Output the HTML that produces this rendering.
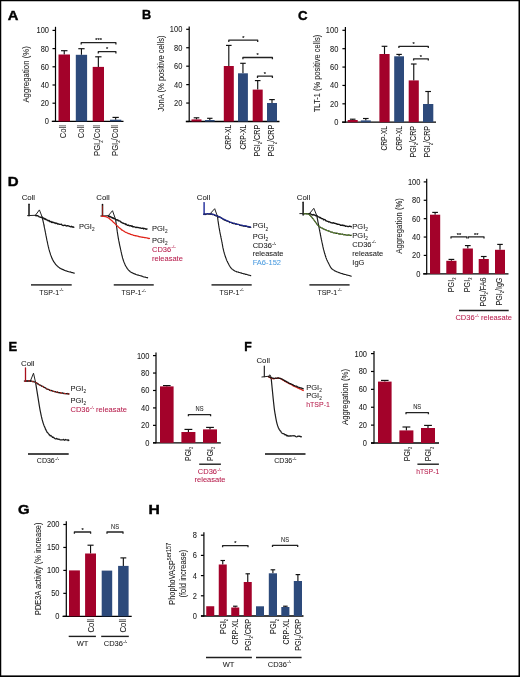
<!DOCTYPE html>
<html><head><meta charset="utf-8"><style>
html,body{margin:0;padding:0;background:#fff;}
body{width:520px;height:677px;overflow:hidden;}
svg{display:block;will-change:transform;font-family:"Liberation Sans",sans-serif;}
</style></head><body>
<svg width="520" height="677" viewBox="0 0 520 677">
<rect x="0" y="0" width="520" height="677" fill="#fff"/>
<text x="7.7" y="19.5" font-size="13.4" text-anchor="start" fill="#000" stroke="#000" stroke-width="0.4" font-weight="bold" textLength="10.65" lengthAdjust="spacingAndGlyphs">A</text>
<line x1="55.5" y1="26.8" x2="55.5" y2="121.9" stroke="#000" stroke-width="1.2"/>
<line x1="52.5" y1="121.4" x2="55.5" y2="121.4" stroke="#000" stroke-width="1.2"/>
<text x="49" y="124.3" font-size="8.6" text-anchor="end" fill="#1a1a1a" stroke="#1a1a1a" stroke-width="0.06" textLength="4.15" lengthAdjust="spacingAndGlyphs">0</text>
<line x1="52.5" y1="103.2" x2="55.5" y2="103.2" stroke="#000" stroke-width="1.2"/>
<text x="49" y="106.1" font-size="8.6" text-anchor="end" fill="#1a1a1a" stroke="#1a1a1a" stroke-width="0.06" textLength="8.3" lengthAdjust="spacingAndGlyphs">20</text>
<line x1="52.5" y1="85" x2="55.5" y2="85" stroke="#000" stroke-width="1.2"/>
<text x="49" y="87.9" font-size="8.6" text-anchor="end" fill="#1a1a1a" stroke="#1a1a1a" stroke-width="0.06" textLength="8.3" lengthAdjust="spacingAndGlyphs">40</text>
<line x1="52.5" y1="66.8" x2="55.5" y2="66.8" stroke="#000" stroke-width="1.2"/>
<text x="49" y="69.7" font-size="8.6" text-anchor="end" fill="#1a1a1a" stroke="#1a1a1a" stroke-width="0.06" textLength="8.3" lengthAdjust="spacingAndGlyphs">60</text>
<line x1="52.5" y1="48.6" x2="55.5" y2="48.6" stroke="#000" stroke-width="1.2"/>
<text x="49" y="51.5" font-size="8.6" text-anchor="end" fill="#1a1a1a" stroke="#1a1a1a" stroke-width="0.06" textLength="8.3" lengthAdjust="spacingAndGlyphs">80</text>
<line x1="52.5" y1="30.4" x2="55.5" y2="30.4" stroke="#000" stroke-width="1.2"/>
<text x="49" y="33.3" font-size="8.6" text-anchor="end" fill="#1a1a1a" stroke="#1a1a1a" stroke-width="0.06" textLength="12.45" lengthAdjust="spacingAndGlyphs">100</text>
<line x1="51.8" y1="121.4" x2="123.5" y2="121.4" stroke="#000" stroke-width="1.3"/>
<line x1="64.25" y1="54.5" x2="64.25" y2="50.7" stroke="#111" stroke-width="1.15"/>
<line x1="61.03" y1="50.7" x2="67.47" y2="50.7" stroke="#111" stroke-width="1.15"/>
<rect x="58.5" y="54.5" width="11.5" height="66.9" fill="#A3022A"/>
<line x1="81.45" y1="54.8" x2="81.45" y2="48.7" stroke="#111" stroke-width="1.15"/>
<line x1="78.29" y1="48.7" x2="84.61" y2="48.7" stroke="#111" stroke-width="1.15"/>
<rect x="75.8" y="54.8" width="11.3" height="66.6" fill="#2D4A7B"/>
<line x1="98.35" y1="66.9" x2="98.35" y2="56.8" stroke="#111" stroke-width="1.15"/>
<line x1="95.19" y1="56.8" x2="101.51" y2="56.8" stroke="#111" stroke-width="1.15"/>
<rect x="92.7" y="66.9" width="11.3" height="54.5" fill="#A3022A"/>
<line x1="115.65" y1="119.7" x2="115.65" y2="117.4" stroke="#111" stroke-width="1.15"/>
<line x1="112.49" y1="117.4" x2="118.81" y2="117.4" stroke="#111" stroke-width="1.15"/>
<rect x="110" y="119.7" width="11.3" height="1.7" fill="#2D4A7B"/>
<path d="M81.2 44.4 L81.2 42.7 L115.9 42.7 L115.9 44.4" fill="none" stroke="#222" stroke-width="1.3" stroke-linejoin="round"/>
<text x="98.55" y="42.4" font-size="5.6" text-anchor="middle" fill="#222" stroke="#222" stroke-width="0.2">***</text>
<path d="M98.3 53.4 L98.3 51.7 L115.9 51.7 L115.9 53.4" fill="none" stroke="#222" stroke-width="1.3" stroke-linejoin="round"/>
<text x="107.1" y="51.4" font-size="5.6" text-anchor="middle" fill="#222" stroke="#222" stroke-width="0.2">*</text>
<text x="66.45" y="125.1" font-size="8.4" text-anchor="end" fill="#1a1a1a" stroke="#1a1a1a" stroke-width="0.06" transform="rotate(-90 66.45 125.1)" textLength="13.2" lengthAdjust="spacingAndGlyphs">Coll</text>
<text x="83.75" y="125.1" font-size="8.4" text-anchor="end" fill="#1a1a1a" stroke="#1a1a1a" stroke-width="0.06" transform="rotate(-90 83.75 125.1)" textLength="13.2" lengthAdjust="spacingAndGlyphs">Coll</text>
<text x="100.45" y="125.1" font-size="8.4" text-anchor="end" fill="#1a1a1a" stroke="#1a1a1a" stroke-width="0.06" transform="rotate(-90 100.45 125.1)" textLength="30.8" lengthAdjust="spacingAndGlyphs">PGI<tspan dy="2.1" font-size="4.7">2</tspan><tspan dy="-2.1">/Coll</tspan></text>
<text x="118.25" y="125.1" font-size="8.4" text-anchor="end" fill="#1a1a1a" stroke="#1a1a1a" stroke-width="0.06" transform="rotate(-90 118.25 125.1)" textLength="30.8" lengthAdjust="spacingAndGlyphs">PGI<tspan dy="2.1" font-size="4.7">2</tspan><tspan dy="-2.1">/Coll</tspan></text>
<text x="29.4" y="74.4" font-size="8.8" text-anchor="middle" fill="#1a1a1a" stroke="#1a1a1a" stroke-width="0.06" transform="rotate(-90 29.4 74.4)" textLength="56.4" lengthAdjust="spacingAndGlyphs">Aggregation (%)</text>
<text x="142.1" y="19.4" font-size="13.4" text-anchor="start" fill="#000" stroke="#000" stroke-width="0.4" font-weight="bold" textLength="9.2" lengthAdjust="spacingAndGlyphs">B</text>
<line x1="189.2" y1="26.5" x2="189.2" y2="122" stroke="#000" stroke-width="1.2"/>
<line x1="186.2" y1="121.5" x2="189.2" y2="121.5" stroke="#000" stroke-width="1.2"/>
<line x1="186.2" y1="103.06" x2="189.2" y2="103.06" stroke="#000" stroke-width="1.2"/>
<text x="182.3" y="105.96" font-size="8.6" text-anchor="end" fill="#1a1a1a" stroke="#1a1a1a" stroke-width="0.06" textLength="8.3" lengthAdjust="spacingAndGlyphs">20</text>
<line x1="186.2" y1="84.62" x2="189.2" y2="84.62" stroke="#000" stroke-width="1.2"/>
<text x="182.3" y="87.52" font-size="8.6" text-anchor="end" fill="#1a1a1a" stroke="#1a1a1a" stroke-width="0.06" textLength="8.3" lengthAdjust="spacingAndGlyphs">40</text>
<line x1="186.2" y1="66.18" x2="189.2" y2="66.18" stroke="#000" stroke-width="1.2"/>
<text x="182.3" y="69.08" font-size="8.6" text-anchor="end" fill="#1a1a1a" stroke="#1a1a1a" stroke-width="0.06" textLength="8.3" lengthAdjust="spacingAndGlyphs">60</text>
<line x1="186.2" y1="47.74" x2="189.2" y2="47.74" stroke="#000" stroke-width="1.2"/>
<text x="182.3" y="50.64" font-size="8.6" text-anchor="end" fill="#1a1a1a" stroke="#1a1a1a" stroke-width="0.06" textLength="8.3" lengthAdjust="spacingAndGlyphs">80</text>
<line x1="186.2" y1="29.3" x2="189.2" y2="29.3" stroke="#000" stroke-width="1.2"/>
<text x="182.3" y="32.2" font-size="8.6" text-anchor="end" fill="#1a1a1a" stroke="#1a1a1a" stroke-width="0.06" textLength="12.45" lengthAdjust="spacingAndGlyphs">100</text>
<line x1="185.8" y1="121.5" x2="279.5" y2="121.5" stroke="#000" stroke-width="1.3"/>
<line x1="196.5" y1="119.4" x2="196.5" y2="117.8" stroke="#111" stroke-width="1.15"/>
<line x1="193.7" y1="117.8" x2="199.3" y2="117.8" stroke="#111" stroke-width="1.15"/>
<rect x="191.5" y="119.4" width="10" height="2.1" fill="#A3022A"/>
<line x1="209.8" y1="120" x2="209.8" y2="118.3" stroke="#111" stroke-width="1.15"/>
<line x1="207.11" y1="118.3" x2="212.49" y2="118.3" stroke="#111" stroke-width="1.15"/>
<rect x="205" y="120" width="9.6" height="1.5" fill="#2D4A7B"/>
<line x1="228.8" y1="66" x2="228.8" y2="45.4" stroke="#111" stroke-width="1.15"/>
<line x1="226" y1="45.4" x2="231.6" y2="45.4" stroke="#111" stroke-width="1.15"/>
<rect x="223.8" y="66" width="10" height="55.5" fill="#A3022A"/>
<line x1="242.95" y1="73.3" x2="242.95" y2="63.3" stroke="#111" stroke-width="1.15"/>
<line x1="240.18" y1="63.3" x2="245.72" y2="63.3" stroke="#111" stroke-width="1.15"/>
<rect x="238" y="73.3" width="9.9" height="48.2" fill="#2D4A7B"/>
<line x1="257.7" y1="89.6" x2="257.7" y2="80.6" stroke="#111" stroke-width="1.15"/>
<line x1="254.9" y1="80.6" x2="260.5" y2="80.6" stroke="#111" stroke-width="1.15"/>
<rect x="252.7" y="89.6" width="10" height="31.9" fill="#A3022A"/>
<line x1="272" y1="103" x2="272" y2="99.6" stroke="#111" stroke-width="1.15"/>
<line x1="269.2" y1="99.6" x2="274.8" y2="99.6" stroke="#111" stroke-width="1.15"/>
<rect x="267" y="103" width="10" height="18.5" fill="#2D4A7B"/>
<path d="M228.8 41.9 L228.8 40.2 L257.7 40.2 L257.7 41.9" fill="none" stroke="#222" stroke-width="1.3" stroke-linejoin="round"/>
<text x="243.25" y="39.9" font-size="5.6" text-anchor="middle" fill="#222" stroke="#222" stroke-width="0.2">*</text>
<path d="M242.9 59.2 L242.9 57.5 L272.4 57.5 L272.4 59.2" fill="none" stroke="#222" stroke-width="1.3" stroke-linejoin="round"/>
<text x="257.65" y="57.2" font-size="5.6" text-anchor="middle" fill="#222" stroke="#222" stroke-width="0.2">*</text>
<path d="M257.5 77.9 L257.5 76.2 L272.4 76.2 L272.4 77.9" fill="none" stroke="#222" stroke-width="1.3" stroke-linejoin="round"/>
<text x="264.95" y="75.9" font-size="5.6" text-anchor="middle" fill="#222" stroke="#222" stroke-width="0.2">*</text>
<text x="231.15" y="124.8" font-size="8.4" text-anchor="end" fill="#1a1a1a" stroke="#1a1a1a" stroke-width="0.06" transform="rotate(-90 231.15 124.8)" textLength="24.8" lengthAdjust="spacingAndGlyphs">CRP-XL</text>
<text x="245.75" y="124.8" font-size="8.4" text-anchor="end" fill="#1a1a1a" stroke="#1a1a1a" stroke-width="0.06" transform="rotate(-90 245.75 124.8)" textLength="24.8" lengthAdjust="spacingAndGlyphs">CRP-XL</text>
<text x="259.85" y="124.8" font-size="8.4" text-anchor="end" fill="#1a1a1a" stroke="#1a1a1a" stroke-width="0.06" transform="rotate(-90 259.85 124.8)" textLength="31.8" lengthAdjust="spacingAndGlyphs">PGI<tspan dy="2.1" font-size="4.7">2</tspan><tspan dy="-2.1">/CRP</tspan></text>
<text x="274.45" y="124.8" font-size="8.4" text-anchor="end" fill="#1a1a1a" stroke="#1a1a1a" stroke-width="0.06" transform="rotate(-90 274.45 124.8)" textLength="31.8" lengthAdjust="spacingAndGlyphs">PGI<tspan dy="2.1" font-size="4.7">2</tspan><tspan dy="-2.1">/CRP</tspan></text>
<text x="163.6" y="73.5" font-size="8.8" text-anchor="middle" fill="#1a1a1a" stroke="#1a1a1a" stroke-width="0.06" transform="rotate(-90 163.6 73.5)" textLength="76" lengthAdjust="spacingAndGlyphs">JonA (% positive cells)</text>
<text x="298.1" y="19.5" font-size="13.4" text-anchor="start" fill="#000" stroke="#000" stroke-width="0.4" font-weight="bold" textLength="9.57" lengthAdjust="spacingAndGlyphs">C</text>
<line x1="345.4" y1="27.1" x2="345.4" y2="122.7" stroke="#000" stroke-width="1.2"/>
<line x1="342.4" y1="122.2" x2="345.4" y2="122.2" stroke="#000" stroke-width="1.2"/>
<text x="338.3" y="125.1" font-size="8.6" text-anchor="end" fill="#1a1a1a" stroke="#1a1a1a" stroke-width="0.06" textLength="4.15" lengthAdjust="spacingAndGlyphs">0</text>
<line x1="342.4" y1="103.82" x2="345.4" y2="103.82" stroke="#000" stroke-width="1.2"/>
<text x="338.3" y="106.72" font-size="8.6" text-anchor="end" fill="#1a1a1a" stroke="#1a1a1a" stroke-width="0.06" textLength="8.3" lengthAdjust="spacingAndGlyphs">20</text>
<line x1="342.4" y1="85.44" x2="345.4" y2="85.44" stroke="#000" stroke-width="1.2"/>
<text x="338.3" y="88.34" font-size="8.6" text-anchor="end" fill="#1a1a1a" stroke="#1a1a1a" stroke-width="0.06" textLength="8.3" lengthAdjust="spacingAndGlyphs">40</text>
<line x1="342.4" y1="67.06" x2="345.4" y2="67.06" stroke="#000" stroke-width="1.2"/>
<text x="338.3" y="69.96" font-size="8.6" text-anchor="end" fill="#1a1a1a" stroke="#1a1a1a" stroke-width="0.06" textLength="8.3" lengthAdjust="spacingAndGlyphs">60</text>
<line x1="342.4" y1="48.68" x2="345.4" y2="48.68" stroke="#000" stroke-width="1.2"/>
<text x="338.3" y="51.58" font-size="8.6" text-anchor="end" fill="#1a1a1a" stroke="#1a1a1a" stroke-width="0.06" textLength="8.3" lengthAdjust="spacingAndGlyphs">80</text>
<line x1="342.4" y1="30.3" x2="345.4" y2="30.3" stroke="#000" stroke-width="1.2"/>
<text x="338.3" y="33.2" font-size="8.6" text-anchor="end" fill="#1a1a1a" stroke="#1a1a1a" stroke-width="0.06" textLength="12.45" lengthAdjust="spacingAndGlyphs">100</text>
<line x1="342" y1="122.2" x2="436" y2="122.2" stroke="#000" stroke-width="1.3"/>
<line x1="352.7" y1="120" x2="352.7" y2="119.2" stroke="#111" stroke-width="1.15"/>
<line x1="349.9" y1="119.2" x2="355.5" y2="119.2" stroke="#111" stroke-width="1.15"/>
<rect x="347.7" y="120" width="10" height="2.2" fill="#A3022A"/>
<line x1="365.8" y1="120.4" x2="365.8" y2="118.5" stroke="#111" stroke-width="1.15"/>
<line x1="363" y1="118.5" x2="368.6" y2="118.5" stroke="#111" stroke-width="1.15"/>
<rect x="360.8" y="120.4" width="10" height="1.8" fill="#2D4A7B"/>
<line x1="384.5" y1="54" x2="384.5" y2="46.3" stroke="#111" stroke-width="1.15"/>
<line x1="381.64" y1="46.3" x2="387.36" y2="46.3" stroke="#111" stroke-width="1.15"/>
<rect x="379.4" y="54" width="10.2" height="68.2" fill="#A3022A"/>
<line x1="399.1" y1="56.3" x2="399.1" y2="54.4" stroke="#111" stroke-width="1.15"/>
<line x1="396.36" y1="54.4" x2="401.84" y2="54.4" stroke="#111" stroke-width="1.15"/>
<rect x="394.2" y="56.3" width="9.8" height="65.9" fill="#2D4A7B"/>
<line x1="413.75" y1="80.4" x2="413.75" y2="64" stroke="#111" stroke-width="1.15"/>
<line x1="410.92" y1="64" x2="416.58" y2="64" stroke="#111" stroke-width="1.15"/>
<rect x="408.7" y="80.4" width="10.1" height="41.8" fill="#A3022A"/>
<line x1="428.15" y1="104" x2="428.15" y2="91.5" stroke="#111" stroke-width="1.15"/>
<line x1="425.27" y1="91.5" x2="431.03" y2="91.5" stroke="#111" stroke-width="1.15"/>
<rect x="423" y="104" width="10.3" height="18.2" fill="#2D4A7B"/>
<path d="M398.9 48 L398.9 46.3 L428.3 46.3 L428.3 48" fill="none" stroke="#222" stroke-width="1.3" stroke-linejoin="round"/>
<text x="413.6" y="46" font-size="5.6" text-anchor="middle" fill="#222" stroke="#222" stroke-width="0.2">*</text>
<path d="M413.6 60.5 L413.6 58.8 L428.3 58.8 L428.3 60.5" fill="none" stroke="#222" stroke-width="1.3" stroke-linejoin="round"/>
<text x="420.95" y="58.5" font-size="5.6" text-anchor="middle" fill="#222" stroke="#222" stroke-width="0.2">*</text>
<text x="387.15" y="126" font-size="8.4" text-anchor="end" fill="#1a1a1a" stroke="#1a1a1a" stroke-width="0.06" transform="rotate(-90 387.15 126)" textLength="24.6" lengthAdjust="spacingAndGlyphs">CRP-XL</text>
<text x="401.85" y="126" font-size="8.4" text-anchor="end" fill="#1a1a1a" stroke="#1a1a1a" stroke-width="0.06" transform="rotate(-90 401.85 126)" textLength="24.6" lengthAdjust="spacingAndGlyphs">CRP-XL</text>
<text x="415.75" y="126" font-size="8.4" text-anchor="end" fill="#1a1a1a" stroke="#1a1a1a" stroke-width="0.06" transform="rotate(-90 415.75 126)" textLength="31.4" lengthAdjust="spacingAndGlyphs">PGI<tspan dy="2.1" font-size="4.7">2</tspan><tspan dy="-2.1">/CRP</tspan></text>
<text x="430.45" y="126" font-size="8.4" text-anchor="end" fill="#1a1a1a" stroke="#1a1a1a" stroke-width="0.06" transform="rotate(-90 430.45 126)" textLength="31.4" lengthAdjust="spacingAndGlyphs">PGI<tspan dy="2.1" font-size="4.7">2</tspan><tspan dy="-2.1">/CRP</tspan></text>
<text x="319.6" y="73.5" font-size="8.8" text-anchor="middle" fill="#1a1a1a" stroke="#1a1a1a" stroke-width="0.06" transform="rotate(-90 319.6 73.5)" textLength="77.5" lengthAdjust="spacingAndGlyphs">TLT-1 (% positive cells)</text>
<text x="7.8" y="186.4" font-size="13.4" text-anchor="start" fill="#000" stroke="#000" stroke-width="0.4" font-weight="bold" textLength="10.86" lengthAdjust="spacingAndGlyphs">D</text>
<text x="28.4" y="200" font-size="7.8" text-anchor="middle" fill="#1a1a1a" stroke="#1a1a1a" stroke-width="0.06">Coll</text>
<path d="M29 204.3 L29 215.8" fill="none" stroke="#111" stroke-width="1.5" stroke-linejoin="round" stroke-linecap="round"/>
<path d="M27.60 215.60 L35.40 215.30 L39.40 209.90 L42.20 217.10" fill="none" stroke="#222" stroke-width="1" stroke-linejoin="round" stroke-linecap="round"/>
<path d="M42.10 216.79 L42.18 217.17 L42.28 217.70 L42.39 218.06 L42.52 218.63 L42.66 219.27 L42.81 219.80 L42.96 220.59 L43.12 221.34 L43.28 222.11 L43.44 222.64 L43.60 223.44 L43.72 223.93 L43.83 224.71 L43.95 225.26 L44.08 225.67 L44.20 226.57 L44.33 227.20 L44.46 227.75 L44.59 228.38 L44.72 228.90 L44.85 229.51 L44.98 230.32 L45.11 230.84 L45.24 231.53 L45.37 232.19 L45.50 232.76 L45.62 233.48 L45.73 234.07 L45.85 234.78 L45.97 235.28 L46.08 235.91 L46.19 236.46 L46.31 237.10 L46.42 237.64 L46.54 238.18 L46.66 238.99 L46.78 239.58 L46.90 240.13 L47.02 240.69 L47.14 241.16 L47.27 241.73 L47.40 242.34 L47.53 242.86 L47.66 243.67 L47.79 244.15 L47.92 244.88 L48.06 245.34 L48.19 246.10 L48.32 246.67 L48.46 247.01 L48.60 247.66 L48.75 248.46 L48.89 248.92 L49.05 249.65 L49.20 250.06 L49.36 250.54 L49.53 251.27 L49.70 251.88 L49.89 252.33 L50.08 252.88 L50.27 253.56 L50.47 254.36 L50.67 254.90 L50.88 255.30 L51.09 255.94 L51.30 256.48 L51.52 257.05 L51.75 257.84 L51.99 258.21 L52.23 258.87 L52.48 259.37 L52.73 259.81 L53.00 260.47 L53.34 260.89 L53.69 261.63 L54.05 262.04 L54.42 262.68 L54.80 263.15 L55.19 263.68 L55.60 264.39 L56.01 264.82 L56.44 265.14 L56.88 265.76 L57.33 265.99 L57.80 266.47 L58.28 267.01 L58.76 267.32 L59.25 267.52 L59.74 268.12 L60.26 268.21 L60.78 268.53 L61.32 268.99 L61.89 269.14 L62.48 269.41 L63.09 269.62 L63.73 269.90 L64.40 270.32 L64.91 270.42 L65.47 270.72 L66.08 270.85 L66.71 271.07 L67.37 271.42 L68.05 271.47 L68.74 271.69 L69.42 271.96 L70.10 271.93 L70.76 272.09 L71.40 272.48 L72.01 272.61 L72.58 272.58 L73.10 272.69 L73.57 272.98 L73.97 273.14 L74.30 273.10" fill="none" stroke="#1c1c1c" stroke-width="1.15" stroke-linejoin="round" stroke-linecap="round"/>
<path d="M35.40 215.38 L35.76 215.66 L36.20 215.80 L36.71 215.49 L37.29 215.55 L37.92 216.08 L38.59 216.20 L39.29 216.91 L40.02 217.05 L40.75 217.23 L41.48 217.47 L42.20 217.85 L42.69 217.59 L43.20 218.08 L43.72 218.07 L44.25 219.00 L44.79 218.50 L45.33 219.46 L45.88 219.07 L46.44 219.90 L47.01 219.87 L47.58 220.21 L48.15 220.88 L48.72 220.41 L49.29 220.70 L49.86 221.72 L50.43 221.59 L51.00 221.43 L51.56 222.44 L52.11 222.60 L52.65 222.03 L53.19 222.48 L53.73 222.39 L54.27 222.71 L54.81 223.14 L55.36 222.88 L55.91 223.51 L56.48 223.07 L57.07 223.33 L57.67 224.06 L58.29 223.83 L58.93 224.00 L59.60 224.32 L60.30 224.38 L60.84 224.42 L61.42 224.23 L62.04 225.00 L62.68 225.36 L63.35 225.51 L64.04 225.37 L64.75 225.24 L65.47 225.40 L66.19 225.84 L66.91 225.97 L67.63 225.61 L68.34 225.87 L69.03 226.12 L69.71 226.39 L70.36 226.79 L70.98 226.63 L71.56 226.32 L72.11 227.15 L72.61 226.90 L73.06 227.07 L73.46 226.88 L73.80 227.20" fill="none" stroke="#151515" stroke-width="1.35" stroke-linejoin="round" stroke-linecap="round"/>
<text x="79" y="229.3" font-size="7.5" text-anchor="start" fill="#1a1a1a" stroke="#1a1a1a" stroke-width="0.06">PGI<tspan dy="2.1" font-size="4.7">2</tspan><tspan dy="-2.1"></tspan></text>
<line x1="31" y1="284.9" x2="71.7" y2="284.9" stroke="#484848" stroke-width="1.9"/>
<text x="51.3" y="294.7" font-size="7" text-anchor="middle" fill="#1a1a1a" stroke="#1a1a1a" stroke-width="0.06">TSP-1<tspan dy="-3.3" font-size="4.2" dx="0.4">-/-</tspan></text>
<text x="103" y="200" font-size="7.8" text-anchor="middle" fill="#1a1a1a" stroke="#1a1a1a" stroke-width="0.06">Coll</text>
<path d="M102.5 204.6 L102.5 216.3" fill="none" stroke="#111" stroke-width="1.5" stroke-linejoin="round" stroke-linecap="round"/>
<path d="M102.5 206 L102.5 216" fill="none" stroke="#D9261C" stroke-width="0.6" stroke-linejoin="round" stroke-linecap="round"/>
<path d="M100.70 216.00 L108.30 215.70 L112.50 210.70 L115.60 219.40" fill="none" stroke="#222" stroke-width="1" stroke-linejoin="round" stroke-linecap="round"/>
<path d="M115.60 219.30 L115.65 219.78 L115.70 220.14 L115.75 220.51 L115.82 220.88 L115.88 221.55 L115.96 222.08 L116.03 222.55 L116.11 223.14 L116.19 223.67 L116.28 224.24 L116.37 225.00 L116.46 225.74 L116.55 226.27 L116.65 227.18 L116.75 227.72 L116.85 228.43 L116.94 229.08 L117.04 230.07 L117.14 230.70 L117.24 231.44 L117.34 232.05 L117.44 232.55 L117.54 233.30 L117.64 233.99 L117.73 234.49 L117.82 235.34 L117.91 235.73 L118.00 236.20 L118.12 237.11 L118.24 237.59 L118.35 238.50 L118.47 239.01 L118.59 239.68 L118.70 240.24 L118.82 240.89 L118.93 241.39 L119.05 241.93 L119.16 242.76 L119.28 243.14 L119.40 243.87 L119.52 244.27 L119.64 245.06 L119.76 245.61 L119.88 246.13 L120.01 246.71 L120.14 247.24 L120.27 247.87 L120.40 248.29 L120.53 249.00 L120.67 249.72 L120.81 250.16 L120.94 251.00 L121.08 251.63 L121.21 252.12 L121.35 252.74 L121.49 253.40 L121.64 254.01 L121.78 254.82 L121.93 255.27 L122.08 255.78 L122.23 256.41 L122.39 257.20 L122.54 257.88 L122.71 258.31 L122.87 258.88 L123.04 259.45 L123.22 260.05 L123.40 260.42 L123.64 261.21 L123.89 261.86 L124.14 262.53 L124.39 263.03 L124.65 263.64 L124.92 264.29 L125.19 265.05 L125.47 265.44 L125.75 266.07 L126.05 266.52 L126.35 266.97 L126.67 267.46 L127.00 268.17 L127.34 268.63 L127.70 268.96 L128.11 269.55 L128.52 270.00 L128.93 270.50 L129.34 270.91 L129.77 271.12 L130.21 271.66 L130.67 271.99 L131.17 272.21 L131.70 272.62 L132.27 272.82 L132.89 273.11 L133.57 273.39 L134.30 273.91 L134.76 273.89 L135.26 274.06 L135.80 274.48 L136.38 274.68 L136.99 274.79 L137.63 275.10 L138.28 275.07 L138.96 275.34 L139.64 275.55 L140.33 275.78 L141.02 275.90 L141.71 276.07 L142.38 276.33 L143.05 276.68 L143.69 276.88 L144.32 276.98 L144.91 277.06 L145.47 277.14 L145.99 277.49 L146.47 277.49 L146.90 277.67 L147.28 277.56 L147.60 277.80" fill="none" stroke="#1c1c1c" stroke-width="1.15" stroke-linejoin="round" stroke-linecap="round"/>
<path d="M108.30 216.41 L108.62 215.81 L109.00 215.87 L109.44 216.93 L109.93 216.40 L110.47 216.56 L111.04 217.28 L111.65 217.26 L112.28 218.02 L112.93 217.70 L113.59 218.64 L114.25 218.35 L114.91 218.90 L115.56 219.49 L116.20 219.57 L116.72 220.03 L117.26 220.10 L117.81 219.78 L118.37 220.82 L118.93 220.85 L119.51 220.90 L120.09 221.10 L120.67 222.00 L121.26 222.07 L121.84 222.70 L122.42 222.85 L123.01 223.31 L123.58 223.25 L124.15 223.64 L124.71 223.82 L125.26 223.75 L125.80 224.61 L126.43 224.29 L127.04 224.95 L127.62 225.34 L128.19 225.28 L128.74 225.02 L129.30 225.83 L129.86 225.87 L130.42 225.61 L131.00 225.66 L131.60 226.26 L132.22 225.98 L132.87 226.95 L133.57 226.74 L134.30 226.92 L134.83 226.93 L135.40 227.28 L136.00 227.62 L136.64 227.19 L137.31 227.37 L137.99 227.68 L138.69 227.54 L139.40 227.92 L140.12 227.99 L140.83 228.00 L141.53 228.33 L142.23 228.30 L142.90 228.01 L143.55 228.92 L144.17 228.44 L144.76 228.60 L145.31 228.65 L145.82 229.20 L146.27 229.29 L146.66 228.96 L147.00 229.00" fill="none" stroke="#151515" stroke-width="1.35" stroke-linejoin="round" stroke-linecap="round"/>
<path d="M101.60 216.17 L101.96 216.26 L102.43 216.32 L102.98 216.10 L103.61 216.41 L104.27 216.47 L104.97 216.66 L105.69 216.69 L106.39 216.93 L107.07 217.28 L107.70 217.49 L108.21 217.87 L108.72 218.02 L109.23 218.41 L109.75 219.05 L110.26 219.34 L110.78 219.81 L111.28 220.33 L111.79 220.63 L112.28 220.95 L112.76 221.68 L113.24 222.03 L113.70 222.46 L114.18 222.89 L114.64 223.47 L115.09 223.66 L115.52 224.26 L115.94 224.55 L116.36 225.07 L116.78 225.54 L117.21 225.84 L117.66 226.18 L118.12 226.76 L118.60 227.29 L119.05 227.62 L119.49 227.96 L119.94 228.42 L120.38 228.62 L120.83 229.01 L121.30 229.45 L121.78 230.02 L122.29 230.15 L122.81 230.48 L123.37 230.84 L123.97 231.17 L124.60 231.61 L125.07 231.97 L125.54 232.30 L126.02 232.34 L126.51 232.59 L127.01 232.78 L127.53 233.01 L128.06 233.42 L128.60 233.55 L129.16 233.65 L129.73 233.80 L130.32 234.28 L130.93 234.46 L131.56 234.72 L132.21 234.69 L132.88 235.02 L133.58 235.37 L134.30 235.44 L134.82 235.72 L135.37 235.54 L135.96 236.01 L136.58 235.79 L137.23 236.07 L137.90 236.06 L138.59 236.52 L139.29 236.62 L140.00 236.88 L140.71 236.95 L141.43 237.15 L142.15 237.13 L142.86 237.44 L143.56 237.48 L144.25 237.45 L144.92 237.83 L145.57 237.71 L146.19 237.75 L146.79 237.81 L147.34 238.07 L147.87 238.06 L148.35 238.45 L148.78 238.54 L149.17 238.32 L149.50 238.50" fill="none" stroke="#E0251B" stroke-width="1.25" stroke-linejoin="round" stroke-linecap="round"/>
<text x="152" y="231.2" font-size="7.5" text-anchor="start" fill="#1a1a1a" stroke="#1a1a1a" stroke-width="0.06">PGI<tspan dy="2.1" font-size="4.7">2</tspan><tspan dy="-2.1"></tspan></text>
<text x="152" y="242.8" font-size="7.5" text-anchor="start" fill="#1a1a1a" stroke="#1a1a1a" stroke-width="0.06">PGI<tspan dy="2.1" font-size="4.7">2</tspan><tspan dy="-2.1"></tspan></text>
<text x="152" y="251.6" font-size="7.5" text-anchor="start" fill="#B8204F" stroke="#B8204F" stroke-width="0.06">CD36<tspan dy="-3.3" font-size="4.2" dx="0.4">-/-</tspan></text>
<text x="152" y="260.8" font-size="7.5" text-anchor="start" fill="#B8204F" stroke="#B8204F" stroke-width="0.06">releasate</text>
<line x1="113.75" y1="284.9" x2="153.75" y2="284.9" stroke="#484848" stroke-width="1.9"/>
<text x="133.7" y="295" font-size="7" text-anchor="middle" fill="#1a1a1a" stroke="#1a1a1a" stroke-width="0.06">TSP-1<tspan dy="-3.3" font-size="4.2" dx="0.4">-/-</tspan></text>
<text x="203.5" y="200" font-size="7.8" text-anchor="middle" fill="#1a1a1a" stroke="#1a1a1a" stroke-width="0.06">Coll</text>
<path d="M204.1 202.6 L204.1 214.6" fill="none" stroke="#1E2A9A" stroke-width="1.4" stroke-linejoin="round" stroke-linecap="round"/>
<path d="M210.10 213.80 L214.70 208.70 L217.40 216.20" fill="none" stroke="#222" stroke-width="1" stroke-linejoin="round" stroke-linecap="round"/>
<path d="M217.40 216.05 L217.45 216.42 L217.50 216.89 L217.57 217.41 L217.64 217.74 L217.71 218.26 L217.79 218.86 L217.87 219.62 L217.96 220.06 L218.05 220.89 L218.15 221.54 L218.25 222.07 L218.35 222.89 L218.45 223.57 L218.56 224.26 L218.67 225.14 L218.77 225.56 L218.88 226.23 L218.99 227.17 L219.09 227.65 L219.20 228.21 L219.31 228.85 L219.42 229.47 L219.53 230.25 L219.64 230.63 L219.76 231.24 L219.87 231.96 L219.99 232.55 L220.11 233.28 L220.23 233.85 L220.36 234.31 L220.48 234.87 L220.60 235.66 L220.73 236.31 L220.85 236.63 L220.98 237.45 L221.10 238.09 L221.23 238.63 L221.35 239.11 L221.48 239.88 L221.60 240.47 L221.72 240.91 L221.84 241.66 L221.95 242.14 L222.07 242.70 L222.18 243.40 L222.29 244.01 L222.40 244.65 L222.51 245.34 L222.62 246.01 L222.74 246.66 L222.85 247.27 L222.97 247.89 L223.10 248.43 L223.22 248.89 L223.35 249.46 L223.49 250.19 L223.63 250.76 L223.78 251.39 L223.94 251.80 L224.10 252.41 L224.28 253.24 L224.46 253.75 L224.65 254.40 L224.84 254.83 L225.04 255.54 L225.24 256.31 L225.44 256.84 L225.65 257.55 L225.87 257.92 L226.09 258.59 L226.31 259.28 L226.54 259.76 L226.78 260.43 L227.02 260.92 L227.26 261.34 L227.51 261.87 L227.77 262.65 L228.03 262.90 L228.30 263.41 L228.63 264.05 L228.94 264.73 L229.24 265.33 L229.52 265.75 L229.81 266.27 L230.11 266.85 L230.43 267.18 L230.77 267.68 L231.13 268.20 L231.54 268.65 L231.99 268.91 L232.50 269.35 L233.06 269.78 L233.69 270.36 L234.40 270.76 L234.82 271.06 L235.29 271.21 L235.79 271.27 L236.34 271.64 L236.91 271.92 L237.51 271.95 L238.14 272.05 L238.79 272.37 L239.46 272.55 L240.14 272.72 L240.83 272.88 L241.53 273.11 L242.23 273.52 L242.93 273.46 L243.63 273.82 L244.32 273.88 L245.00 274.05 L245.66 274.40 L246.31 274.41 L246.93 274.53 L247.53 274.76 L248.10 274.97 L248.64 275.06 L249.14 275.29 L249.60 275.27 L250.01 275.41 L250.38 275.57 L250.70 275.60" fill="none" stroke="#1c1c1c" stroke-width="1.15" stroke-linejoin="round" stroke-linecap="round"/>
<path d="M204.00 214.10 L204.35 214.16 L204.79 214.15 L205.31 214.48 L205.90 214.10 L206.54 214.16 L207.21 213.64 L207.91 213.87 L208.61 214.07 L209.32 213.85 L210.00 214.21 L210.57 214.26 L211.15 214.01 L211.75 213.90 L212.37 214.59 L212.99 214.33 L213.62 214.44 L214.25 215.16 L214.89 215.47 L215.52 215.70 L216.16 216.02 L216.78 215.74 L217.40 215.91 L217.96 216.17 L218.50 217.03 L219.04 216.68 L219.57 216.99 L220.11 217.18 L220.64 217.49 L221.18 217.78 L221.72 218.30 L222.28 218.47 L222.85 218.88 L223.45 219.61 L224.06 219.38 L224.70 220.12 L225.20 220.29 L225.69 220.39 L226.18 220.62 L226.68 220.98 L227.18 221.08 L227.68 221.05 L228.19 221.35 L228.72 221.51 L229.26 221.85 L229.82 222.49 L230.39 222.32 L230.99 222.29 L231.61 222.80 L232.26 223.26 L232.94 223.22 L233.65 223.62 L234.40 223.41 L234.90 223.53 L235.44 224.10 L236.01 223.81 L236.61 224.14 L237.24 224.35 L237.89 224.37 L238.56 224.41 L239.25 224.55 L239.95 225.36 L240.66 225.34 L241.37 225.67 L242.09 225.51 L242.80 225.98 L243.51 226.07 L244.21 226.04 L244.90 226.12 L245.57 226.25 L246.23 226.18 L246.86 226.42 L247.47 226.78 L248.05 226.53 L248.59 227.10 L249.10 226.97 L249.57 227.13 L249.99 227.37 L250.37 227.33 L250.70 227.30" fill="none" stroke="#151515" stroke-width="1.3" stroke-linejoin="round" stroke-linecap="round"/>
<path d="M203.50 214.23 L203.88 214.21 L204.37 214.21 L204.94 213.91 L205.59 213.96 L206.29 213.96 L207.02 213.89 L207.78 213.53 L208.54 213.69 L209.28 213.69 L210.00 213.70 L210.59 213.98 L211.18 213.92 L211.79 214.02 L212.40 214.38 L213.02 214.44 L213.65 214.51 L214.28 214.72 L214.91 215.02 L215.54 215.08 L216.16 215.55 L216.78 215.84 L217.40 215.97 L217.96 216.38 L218.50 216.66 L219.04 216.78 L219.57 217.10 L220.11 217.16 L220.64 217.43 L221.18 218.10 L221.72 218.12 L222.28 218.39 L222.85 218.97 L223.45 219.21 L224.06 219.26 L224.70 219.63 L225.20 219.82 L225.69 220.05 L226.18 220.17 L226.68 220.60 L227.18 220.74 L227.68 221.00 L228.19 221.14 L228.72 221.34 L229.26 221.53 L229.82 222.09 L230.39 222.27 L230.99 222.42 L231.61 222.47 L232.26 222.70 L232.94 222.91 L233.65 223.21 L234.40 223.32 L234.90 223.55 L235.44 223.66 L236.01 223.81 L236.61 224.14 L237.24 224.21 L237.89 224.37 L238.56 224.48 L239.25 224.71 L239.95 224.96 L240.66 224.93 L241.37 224.99 L242.09 225.30 L242.80 225.41 L243.51 225.72 L244.21 225.60 L244.90 226.05 L245.57 225.85 L246.23 226.19 L246.86 226.28 L247.47 226.35 L248.05 226.70 L248.59 226.74 L249.10 226.63 L249.57 226.86 L249.99 226.99 L250.37 226.84 L250.70 227.10" fill="none" stroke="#1E2A9A" stroke-width="1.1" stroke-linejoin="round" stroke-linecap="round"/>
<text x="252.7" y="228.4" font-size="7.5" text-anchor="start" fill="#1a1a1a" stroke="#1a1a1a" stroke-width="0.06">PGI<tspan dy="2.1" font-size="4.7">2</tspan><tspan dy="-2.1"></tspan></text>
<text x="252.7" y="238.8" font-size="7.5" text-anchor="start" fill="#1a1a1a" stroke="#1a1a1a" stroke-width="0.06">PGI<tspan dy="2.1" font-size="4.7">2</tspan><tspan dy="-2.1"></tspan></text>
<text x="252.7" y="247.9" font-size="7.5" text-anchor="start" fill="#1a1a1a" stroke="#1a1a1a" stroke-width="0.06">CD36<tspan dy="-3.3" font-size="4.2" dx="0.4">-/-</tspan></text>
<text x="252.7" y="256.3" font-size="7.5" text-anchor="start" fill="#1a1a1a" stroke="#1a1a1a" stroke-width="0.06">releasate</text>
<text x="252.7" y="264.9" font-size="7.5" text-anchor="start" fill="#4D9DE0" stroke="#4D9DE0" stroke-width="0.06">FA6-152</text>
<line x1="211.5" y1="284.9" x2="251.7" y2="284.9" stroke="#484848" stroke-width="1.9"/>
<text x="231.6" y="294.6" font-size="7" text-anchor="middle" fill="#1a1a1a" stroke="#1a1a1a" stroke-width="0.06">TSP-1<tspan dy="-3.3" font-size="4.2" dx="0.4">-/-</tspan></text>
<text x="303.5" y="200" font-size="7.8" text-anchor="middle" fill="#1a1a1a" stroke="#1a1a1a" stroke-width="0.06">Coll</text>
<path d="M303.1 202.2 L303.1 215" fill="none" stroke="#111" stroke-width="1.5" stroke-linejoin="round" stroke-linecap="round"/>
<path d="M299.80 213.60 L309.50 213.60 L313.80 208.30 L316.80 215.60" fill="none" stroke="#222" stroke-width="1" stroke-linejoin="round" stroke-linecap="round"/>
<path d="M316.80 215.56 L316.86 215.85 L316.94 216.22 L317.02 216.88 L317.11 217.26 L317.21 217.82 L317.31 218.34 L317.42 218.88 L317.54 219.61 L317.66 220.21 L317.79 220.94 L317.91 221.59 L318.05 222.33 L318.18 222.92 L318.31 223.54 L318.44 224.24 L318.58 225.11 L318.71 225.63 L318.84 226.45 L318.96 227.10 L319.08 227.56 L319.20 228.39 L319.32 228.78 L319.44 229.64 L319.56 230.25 L319.67 230.67 L319.79 231.44 L319.91 232.04 L320.02 232.47 L320.14 233.23 L320.26 233.67 L320.38 234.51 L320.49 235.05 L320.61 235.73 L320.73 236.05 L320.85 236.73 L320.97 237.43 L321.09 238.02 L321.22 238.50 L321.34 239.31 L321.47 239.90 L321.60 240.34 L321.73 240.90 L321.86 241.67 L321.99 242.20 L322.12 242.90 L322.25 243.47 L322.38 244.06 L322.51 244.56 L322.64 245.22 L322.77 245.93 L322.91 246.63 L323.04 247.16 L323.18 247.86 L323.32 248.41 L323.47 249.12 L323.61 249.65 L323.76 250.14 L323.92 250.67 L324.07 251.23 L324.23 251.80 L324.40 252.61 L324.59 253.23 L324.77 253.81 L324.96 254.23 L325.15 255.00 L325.34 255.45 L325.54 256.27 L325.74 256.79 L325.94 257.41 L326.14 257.95 L326.36 258.46 L326.57 259.16 L326.80 259.75 L327.03 260.09 L327.26 260.69 L327.51 261.31 L327.76 261.82 L328.03 262.26 L328.30 262.79 L328.60 263.50 L328.88 263.85 L329.15 264.38 L329.42 265.06 L329.68 265.46 L329.95 266.16 L330.24 266.50 L330.54 267.18 L330.87 267.50 L331.22 268.13 L331.62 268.56 L332.06 269.02 L332.56 269.32 L333.11 269.74 L333.72 270.14 L334.40 270.60 L334.82 270.98 L335.28 271.03 L335.78 271.32 L336.32 271.65 L336.88 271.75 L337.48 272.04 L338.10 272.23 L338.75 272.60 L339.41 272.65 L340.09 273.14 L340.78 273.24 L341.47 273.49 L342.18 273.65 L342.88 273.84 L343.58 274.19 L344.28 274.36 L344.97 274.53 L345.64 274.48 L346.30 274.83 L346.94 275.11 L347.56 275.19 L348.16 275.31 L348.72 275.51 L349.25 275.51 L349.75 275.81 L350.20 275.96 L350.62 275.86 L350.98 276.10 L351.30 276.20" fill="none" stroke="#1c1c1c" stroke-width="1.15" stroke-linejoin="round" stroke-linecap="round"/>
<path d="M309.50 213.93 L309.84 213.48 L310.26 213.83 L310.75 213.93 L311.29 214.56 L311.88 214.68 L312.51 215.06 L313.18 214.55 L313.87 215.07 L314.58 214.94 L315.29 215.36 L316.01 215.87 L316.71 215.70 L317.40 216.13 L317.92 216.76 L318.45 216.90 L318.99 216.86 L319.53 217.45 L320.08 217.92 L320.64 217.48 L321.21 218.49 L321.78 218.68 L322.35 218.65 L322.93 218.78 L323.52 219.80 L324.10 219.53 L324.70 219.59 L325.29 219.87 L325.89 220.81 L326.50 220.85 L327.10 221.28 L327.64 221.42 L328.18 221.45 L328.73 222.04 L329.27 221.70 L329.82 222.05 L330.37 222.49 L330.92 222.49 L331.48 222.89 L332.04 222.82 L332.61 223.11 L333.18 222.69 L333.76 223.03 L334.34 223.25 L334.93 223.23 L335.53 223.53 L336.13 223.57 L336.75 223.89 L337.37 224.37 L338.00 224.28 L338.57 224.42 L339.17 224.40 L339.80 224.59 L340.45 225.32 L341.13 225.19 L341.81 225.29 L342.51 225.02 L343.22 225.65 L343.93 225.27 L344.63 225.59 L345.33 226.25 L346.02 226.05 L346.69 226.09 L347.34 226.31 L347.97 226.56 L348.57 226.59 L349.13 226.19 L349.66 226.10 L350.14 226.44 L350.58 226.47 L350.97 226.48 L351.30 226.80" fill="none" stroke="#151515" stroke-width="1.35" stroke-linejoin="round" stroke-linecap="round"/>
<path d="M304.00 213.57 L304.38 213.91 L304.88 213.62 L305.48 213.75 L306.14 213.85 L306.85 213.94 L307.56 213.88 L308.25 214.09 L308.90 214.16 L309.31 214.65 L309.72 214.96 L310.14 215.59 L310.56 215.86 L310.98 216.43 L311.39 216.76 L311.81 217.14 L312.22 217.99 L312.62 218.49 L313.02 218.78 L313.42 219.13 L313.80 219.81 L314.20 220.30 L314.59 220.96 L314.96 221.39 L315.32 221.88 L315.68 222.44 L316.04 222.86 L316.41 223.21 L316.78 223.71 L317.17 224.64 L317.57 225.04 L318.00 225.20 L318.48 225.93 L318.97 226.16 L319.46 226.33 L319.96 227.07 L320.48 227.28 L321.02 227.79 L321.59 227.99 L322.19 228.03 L322.82 228.62 L323.50 229.04 L323.98 229.33 L324.48 229.28 L325.01 229.62 L325.55 229.94 L326.11 229.91 L326.69 230.48 L327.27 230.68 L327.87 230.55 L328.46 231.04 L329.06 231.15 L329.66 231.27 L330.26 231.69 L330.85 232.07 L331.43 232.05 L332.00 232.01 L332.60 232.38 L333.18 232.69 L333.76 232.94 L334.33 232.97 L334.90 232.78 L335.48 233.38 L336.05 233.33 L336.63 233.20 L337.22 233.34 L337.82 233.44 L338.44 233.85 L339.07 233.70 L339.72 234.14 L340.40 233.90 L340.96 234.20 L341.56 234.24 L342.20 234.12 L342.86 234.19 L343.55 234.72 L344.25 234.83 L344.96 234.49 L345.67 234.86 L346.37 235.06 L347.07 235.09 L347.74 235.15 L348.38 234.93 L348.99 235.18 L349.56 235.13 L350.09 235.40 L350.55 235.32 L350.96 235.44 L351.30 235.30" fill="none" stroke="#222" stroke-width="1.2" stroke-linejoin="round" stroke-linecap="round"/>
<path d="M304.00 213.57 L304.38 213.91 L304.88 213.62 L305.48 213.75 L306.14 213.85 L306.85 213.94 L307.56 213.88 L308.25 214.09 L308.90 214.16 L309.31 214.65 L309.72 214.96 L310.14 215.59 L310.56 215.86 L310.98 216.43 L311.39 216.76 L311.81 217.14 L312.22 217.99 L312.62 218.49 L313.02 218.78 L313.42 219.13 L313.80 219.81 L314.20 220.30 L314.59 220.96 L314.96 221.39 L315.32 221.88 L315.68 222.44 L316.04 222.86 L316.41 223.21 L316.78 223.71 L317.17 224.64 L317.57 225.04 L318.00 225.20 L318.48 225.93 L318.97 226.16 L319.46 226.33 L319.96 227.07 L320.48 227.28 L321.02 227.79 L321.59 227.99 L322.19 228.03 L322.82 228.62 L323.50 229.04 L323.98 229.33 L324.48 229.28 L325.01 229.62 L325.55 229.94 L326.11 229.91 L326.69 230.48 L327.27 230.68 L327.87 230.55 L328.46 231.04 L329.06 231.15 L329.66 231.27 L330.26 231.69 L330.85 232.07 L331.43 232.05 L332.00 232.01 L332.60 232.38 L333.18 232.69 L333.76 232.94 L334.33 232.97 L334.90 232.78 L335.48 233.38 L336.05 233.33 L336.63 233.20 L337.22 233.34 L337.82 233.44 L338.44 233.85 L339.07 233.70 L339.72 234.14 L340.40 233.90 L340.96 234.20 L341.56 234.24 L342.20 234.12 L342.86 234.19 L343.55 234.72 L344.25 234.83 L344.96 234.49 L345.67 234.86 L346.37 235.06 L347.07 235.09 L347.74 235.15 L348.38 234.93 L348.99 235.18 L349.56 235.13 L350.09 235.40 L350.55 235.32 L350.96 235.44 L351.30 235.30" fill="none" stroke="#6FB02A" stroke-width="1" stroke-linejoin="round" stroke-linecap="round" stroke-dasharray="1.4 1.6"/>
<text x="352.3" y="228.6" font-size="7.5" text-anchor="start" fill="#1a1a1a" stroke="#1a1a1a" stroke-width="0.06">PGI<tspan dy="2.1" font-size="4.7">2</tspan><tspan dy="-2.1"></tspan></text>
<text x="352.3" y="238" font-size="7.5" text-anchor="start" fill="#1a1a1a" stroke="#1a1a1a" stroke-width="0.06">PGI<tspan dy="2.1" font-size="4.7">2</tspan><tspan dy="-2.1"></tspan></text>
<text x="352.3" y="246.6" font-size="7.5" text-anchor="start" fill="#1a1a1a" stroke="#1a1a1a" stroke-width="0.06">CD36<tspan dy="-3.3" font-size="4.2" dx="0.4">-/-</tspan></text>
<text x="352.3" y="256.1" font-size="7.5" text-anchor="start" fill="#1a1a1a" stroke="#1a1a1a" stroke-width="0.06">releasate</text>
<text x="352.3" y="264.9" font-size="7.5" text-anchor="start" fill="#1a1a1a" stroke="#1a1a1a" stroke-width="0.06">IgG</text>
<line x1="309.4" y1="284.9" x2="349.6" y2="284.9" stroke="#484848" stroke-width="1.9"/>
<text x="329.5" y="294.6" font-size="7" text-anchor="middle" fill="#1a1a1a" stroke="#1a1a1a" stroke-width="0.06">TSP-1<tspan dy="-3.3" font-size="4.2" dx="0.4">-/-</tspan></text>
<line x1="426.7" y1="178.7" x2="426.7" y2="274.3" stroke="#000" stroke-width="1.2"/>
<line x1="423.7" y1="273.8" x2="426.7" y2="273.8" stroke="#000" stroke-width="1.2"/>
<text x="420.4" y="276.7" font-size="8.6" text-anchor="end" fill="#1a1a1a" stroke="#1a1a1a" stroke-width="0.06" textLength="4.15" lengthAdjust="spacingAndGlyphs">0</text>
<line x1="423.7" y1="255.42" x2="426.7" y2="255.42" stroke="#000" stroke-width="1.2"/>
<text x="420.4" y="258.32" font-size="8.6" text-anchor="end" fill="#1a1a1a" stroke="#1a1a1a" stroke-width="0.06" textLength="8.3" lengthAdjust="spacingAndGlyphs">20</text>
<line x1="423.7" y1="237.04" x2="426.7" y2="237.04" stroke="#000" stroke-width="1.2"/>
<text x="420.4" y="239.94" font-size="8.6" text-anchor="end" fill="#1a1a1a" stroke="#1a1a1a" stroke-width="0.06" textLength="8.3" lengthAdjust="spacingAndGlyphs">40</text>
<line x1="423.7" y1="218.66" x2="426.7" y2="218.66" stroke="#000" stroke-width="1.2"/>
<text x="420.4" y="221.56" font-size="8.6" text-anchor="end" fill="#1a1a1a" stroke="#1a1a1a" stroke-width="0.06" textLength="8.3" lengthAdjust="spacingAndGlyphs">60</text>
<line x1="423.7" y1="200.28" x2="426.7" y2="200.28" stroke="#000" stroke-width="1.2"/>
<text x="420.4" y="203.18" font-size="8.6" text-anchor="end" fill="#1a1a1a" stroke="#1a1a1a" stroke-width="0.06" textLength="8.3" lengthAdjust="spacingAndGlyphs">80</text>
<line x1="423.7" y1="181.9" x2="426.7" y2="181.9" stroke="#000" stroke-width="1.2"/>
<text x="420.4" y="184.8" font-size="8.6" text-anchor="end" fill="#1a1a1a" stroke="#1a1a1a" stroke-width="0.06" textLength="12.45" lengthAdjust="spacingAndGlyphs">100</text>
<line x1="423" y1="273.8" x2="508.5" y2="273.8" stroke="#000" stroke-width="1.3"/>
<line x1="435.1" y1="214.7" x2="435.1" y2="212.4" stroke="#111" stroke-width="1.15"/>
<line x1="432.24" y1="212.4" x2="437.96" y2="212.4" stroke="#111" stroke-width="1.15"/>
<rect x="430" y="214.7" width="10.2" height="59.1" fill="#A3022A"/>
<line x1="451.4" y1="260.8" x2="451.4" y2="259.4" stroke="#111" stroke-width="1.15"/>
<line x1="448.54" y1="259.4" x2="454.26" y2="259.4" stroke="#111" stroke-width="1.15"/>
<rect x="446.3" y="260.8" width="10.2" height="13" fill="#A3022A"/>
<line x1="467.8" y1="248.5" x2="467.8" y2="245.6" stroke="#111" stroke-width="1.15"/>
<line x1="464.94" y1="245.6" x2="470.66" y2="245.6" stroke="#111" stroke-width="1.15"/>
<rect x="462.7" y="248.5" width="10.2" height="25.3" fill="#A3022A"/>
<line x1="483.75" y1="259" x2="483.75" y2="256.5" stroke="#111" stroke-width="1.15"/>
<line x1="480.92" y1="256.5" x2="486.58" y2="256.5" stroke="#111" stroke-width="1.15"/>
<rect x="478.7" y="259" width="10.1" height="14.8" fill="#A3022A"/>
<line x1="500" y1="249.8" x2="500" y2="244.4" stroke="#111" stroke-width="1.15"/>
<line x1="497.2" y1="244.4" x2="502.8" y2="244.4" stroke="#111" stroke-width="1.15"/>
<rect x="495" y="249.8" width="10" height="24" fill="#A3022A"/>
<path d="M451 238.5 L451 236.8 L466.8 236.8 L466.8 238.5" fill="none" stroke="#222" stroke-width="1.3" stroke-linejoin="round"/>
<text x="458.9" y="236.5" font-size="5.6" text-anchor="middle" fill="#222" stroke="#222" stroke-width="0.2">**</text>
<path d="M468.3 238.5 L468.3 236.8 L484 236.8 L484 238.5" fill="none" stroke="#222" stroke-width="1.3" stroke-linejoin="round"/>
<text x="476.15" y="236.5" font-size="5.6" text-anchor="middle" fill="#222" stroke="#222" stroke-width="0.2">**</text>
<text x="453.75" y="277.6" font-size="8.4" text-anchor="end" fill="#1a1a1a" stroke="#1a1a1a" stroke-width="0.06" transform="rotate(-90 453.75 277.6)" textLength="14.6" lengthAdjust="spacingAndGlyphs">PGI<tspan dy="2.1" font-size="4.7">2</tspan><tspan dy="-2.1"></tspan></text>
<text x="469.65" y="277.6" font-size="8.4" text-anchor="end" fill="#1a1a1a" stroke="#1a1a1a" stroke-width="0.06" transform="rotate(-90 469.65 277.6)" textLength="14.6" lengthAdjust="spacingAndGlyphs">PGI<tspan dy="2.1" font-size="4.7">2</tspan><tspan dy="-2.1"></tspan></text>
<text x="485.75" y="277.6" font-size="8.4" text-anchor="end" fill="#1a1a1a" stroke="#1a1a1a" stroke-width="0.06" transform="rotate(-90 485.75 277.6)" textLength="29" lengthAdjust="spacingAndGlyphs">PGI<tspan dy="2.1" font-size="4.7">2</tspan><tspan dy="-2.1">/FA6</tspan></text>
<text x="501.95" y="277.6" font-size="8.4" text-anchor="end" fill="#1a1a1a" stroke="#1a1a1a" stroke-width="0.06" transform="rotate(-90 501.95 277.6)" textLength="28" lengthAdjust="spacingAndGlyphs">PGI<tspan dy="2.1" font-size="4.7">2</tspan><tspan dy="-2.1">/IgG</tspan></text>
<line x1="459" y1="310.5" x2="508.7" y2="310.5" stroke="#1e1e1e" stroke-width="1.4"/>
<text x="483.7" y="320.4" font-size="7.5" text-anchor="middle" fill="#B8204F" stroke="#B8204F" stroke-width="0.06">CD36<tspan dy="-3.3" font-size="4.2" dx="0.4">-/-</tspan><tspan dy="3.3"> releasate</tspan></text>
<text x="401.6" y="225.9" font-size="8.8" text-anchor="middle" fill="#1a1a1a" stroke="#1a1a1a" stroke-width="0.06" transform="rotate(-90 401.6 225.9)" textLength="55.7" lengthAdjust="spacingAndGlyphs">Aggregation (%)</text>
<text x="8.4" y="351.2" font-size="13.4" text-anchor="start" fill="#000" stroke="#000" stroke-width="0.4" font-weight="bold" textLength="8.64" lengthAdjust="spacingAndGlyphs">E</text>
<text x="27.8" y="366" font-size="7.8" text-anchor="middle" fill="#1a1a1a" stroke="#1a1a1a" stroke-width="0.06">Coll</text>
<path d="M24.20 381.00 L30.40 381.00 L33.50 373.20 L35.60 382.50" fill="none" stroke="#222" stroke-width="1" stroke-linejoin="round" stroke-linecap="round"/>
<path d="M35.60 382.50 L35.65 382.82 L35.71 383.19 L35.78 383.60 L35.85 384.05 L35.93 384.54 L36.01 385.06 L36.10 385.61 L36.19 386.19 L36.29 386.79 L36.39 387.41 L36.49 388.06 L36.59 388.72 L36.70 389.39 L36.81 390.08 L36.92 390.77 L37.03 391.46 L37.15 392.15 L37.26 392.85 L37.37 393.54 L37.48 394.22 L37.59 394.89 L37.69 395.54 L37.80 396.18 L37.90 396.80 L38.00 397.39 L38.09 397.98 L38.19 398.58 L38.28 399.18 L38.38 399.78 L38.47 400.39 L38.57 401.00 L38.66 401.61 L38.76 402.22 L38.86 402.84 L38.95 403.45 L39.05 404.06 L39.15 404.67 L39.25 405.28 L39.35 405.89 L39.45 406.50 L39.55 407.10 L39.65 407.69 L39.75 408.28 L39.86 408.87 L39.96 409.45 L40.07 410.02 L40.18 410.59 L40.29 411.15 L40.40 411.70 L40.53 412.35 L40.67 412.99 L40.80 413.63 L40.94 414.27 L41.07 414.91 L41.21 415.53 L41.34 416.16 L41.48 416.77 L41.62 417.38 L41.77 417.99 L41.91 418.59 L42.06 419.18 L42.20 419.76 L42.36 420.33 L42.51 420.90 L42.67 421.46 L42.83 422.01 L42.99 422.54 L43.16 423.07 L43.33 423.59 L43.50 424.10 L43.73 424.75 L43.97 425.39 L44.20 426.01 L44.45 426.62 L44.69 426.93 L44.94 427.80 L45.20 427.99 L45.46 429.27 L45.72 429.15 L46.00 430.03 L46.28 430.95 L46.56 430.86 L46.86 431.97 L47.16 432.17 L47.48 432.42 L47.80 432.94 L48.21 433.41 L48.64 433.65 L49.08 434.82 L49.54 434.62 L50.01 435.68 L50.49 435.94 L50.98 435.41 L51.47 436.03 L51.97 436.61 L52.48 437.30 L52.98 436.90 L53.49 437.66 L54.00 437.65 L54.60 438.39 L55.21 438.78 L55.83 438.79 L56.45 438.32 L57.08 439.08 L57.71 438.84 L58.35 439.38 L59.00 439.07 L59.66 439.64 L60.33 439.83 L61.00 439.76 L61.60 439.85 L62.24 439.94 L62.92 439.78 L63.62 439.40 L64.33 440.37 L65.04 439.87 L65.73 439.45 L66.40 439.98 L67.02 440.02 L67.60 439.84 L68.11 440.72 L68.55 439.84 L68.90 440.30" fill="none" stroke="#1c1c1c" stroke-width="1.2" stroke-linejoin="round" stroke-linecap="round"/>
<path d="M25.00 381.29 L25.41 380.72 L25.95 381.09 L26.59 380.90 L27.31 381.13 L28.08 380.79 L28.87 381.10 L29.65 380.70 L30.40 381.30 L30.97 381.05 L31.51 381.03 L32.04 381.25 L32.58 381.57 L33.14 381.38 L33.72 381.80 L34.35 381.81 L35.03 382.13 L35.77 382.52 L36.60 382.94 L37.03 383.18 L37.49 383.71 L37.97 383.75 L38.48 384.29 L39.00 384.61 L39.54 384.92 L40.10 385.27 L40.67 385.37 L41.24 385.77 L41.83 386.23 L42.41 386.37 L43.00 386.47 L43.58 387.04 L44.16 387.37 L44.72 387.49 L45.28 387.75 L45.82 388.10 L46.35 388.69 L46.86 389.02 L47.34 389.17 L47.80 389.26 L48.48 389.33 L49.10 389.59 L49.66 390.23 L50.18 390.37 L50.68 390.52 L51.16 390.52 L51.64 390.65 L52.14 390.84 L52.66 390.95 L53.23 391.38 L53.85 391.35 L54.53 391.66 L55.30 391.76 L55.81 391.94 L56.36 392.17 L56.95 392.30 L57.59 392.04 L58.25 392.64 L58.94 392.69 L59.65 392.79 L60.37 392.69 L61.10 393.10 L61.84 393.13 L62.57 392.90 L63.29 393.28 L64.01 393.48 L64.70 393.53 L65.37 393.71 L66.01 393.58 L66.61 393.76 L67.17 393.48 L67.69 393.91 L68.15 393.67 L68.56 394.08 L68.90 394.00" fill="none" stroke="#151515" stroke-width="1.35" stroke-linejoin="round" stroke-linecap="round"/>
<path d="M25.00 381.29 L25.41 380.72 L25.95 381.09 L26.59 380.90 L27.31 381.13 L28.08 380.79 L28.87 381.10 L29.65 380.70 L30.40 381.30 L30.97 381.05 L31.51 381.03 L32.04 381.25 L32.58 381.57 L33.14 381.38 L33.72 381.80 L34.35 381.81 L35.03 382.13 L35.77 382.52 L36.60 382.94 L37.03 383.18 L37.49 383.71 L37.97 383.75 L38.48 384.29 L39.00 384.61 L39.54 384.92 L40.10 385.27 L40.67 385.37 L41.24 385.77 L41.83 386.23 L42.41 386.37 L43.00 386.47 L43.58 387.04 L44.16 387.37 L44.72 387.49 L45.28 387.75 L45.82 388.10 L46.35 388.69 L46.86 389.02 L47.34 389.17 L47.80 389.26 L48.48 389.33 L49.10 389.59 L49.66 390.23 L50.18 390.37 L50.68 390.52 L51.16 390.52 L51.64 390.65 L52.14 390.84 L52.66 390.95 L53.23 391.38 L53.85 391.35 L54.53 391.66 L55.30 391.76 L55.81 391.94 L56.36 392.17 L56.95 392.30 L57.59 392.04 L58.25 392.64 L58.94 392.69 L59.65 392.79 L60.37 392.69 L61.10 393.10 L61.84 393.13 L62.57 392.90 L63.29 393.28 L64.01 393.48 L64.70 393.53 L65.37 393.71 L66.01 393.58 L66.61 393.76 L67.17 393.48 L67.69 393.91 L68.15 393.67 L68.56 394.08 L68.90 394.00" fill="none" stroke="#D9261C" stroke-width="1" stroke-linejoin="round" stroke-linecap="round" stroke-dasharray="1.5 2.5"/>
<path d="M25.5 368 L25.5 381.3" fill="none" stroke="#A8101C" stroke-width="1.3" stroke-linejoin="round" stroke-linecap="round"/>
<text x="70.5" y="390.5" font-size="7.5" text-anchor="start" fill="#1a1a1a" stroke="#1a1a1a" stroke-width="0.06">PGI<tspan dy="2.1" font-size="4.7">2</tspan><tspan dy="-2.1"></tspan></text>
<text x="70.5" y="403" font-size="7.5" text-anchor="start" fill="#1a1a1a" stroke="#1a1a1a" stroke-width="0.06">PGI<tspan dy="2.1" font-size="4.7">2</tspan><tspan dy="-2.1"></tspan></text>
<text x="70.5" y="412" font-size="7.5" text-anchor="start" fill="#B8204F" stroke="#B8204F" stroke-width="0.06">CD36<tspan dy="-3.3" font-size="4.2" dx="0.4">-/-</tspan><tspan dy="3.3"> releasate</tspan></text>
<line x1="28" y1="454" x2="68.7" y2="454" stroke="#484848" stroke-width="1.9"/>
<text x="48" y="463" font-size="7" text-anchor="middle" fill="#1a1a1a" stroke="#1a1a1a" stroke-width="0.06">CD36<tspan dy="-3.3" font-size="4.2" dx="0.4">-/-</tspan></text>
<line x1="156" y1="352.6" x2="156" y2="443.3" stroke="#000" stroke-width="1.2"/>
<line x1="153" y1="442.8" x2="156" y2="442.8" stroke="#000" stroke-width="1.2"/>
<text x="149.4" y="445.7" font-size="8.6" text-anchor="end" fill="#1a1a1a" stroke="#1a1a1a" stroke-width="0.06" textLength="4.15" lengthAdjust="spacingAndGlyphs">0</text>
<line x1="153" y1="425.36" x2="156" y2="425.36" stroke="#000" stroke-width="1.2"/>
<text x="149.4" y="428.26" font-size="8.6" text-anchor="end" fill="#1a1a1a" stroke="#1a1a1a" stroke-width="0.06" textLength="8.3" lengthAdjust="spacingAndGlyphs">20</text>
<line x1="153" y1="407.92" x2="156" y2="407.92" stroke="#000" stroke-width="1.2"/>
<text x="149.4" y="410.82" font-size="8.6" text-anchor="end" fill="#1a1a1a" stroke="#1a1a1a" stroke-width="0.06" textLength="8.3" lengthAdjust="spacingAndGlyphs">40</text>
<line x1="153" y1="390.48" x2="156" y2="390.48" stroke="#000" stroke-width="1.2"/>
<text x="149.4" y="393.38" font-size="8.6" text-anchor="end" fill="#1a1a1a" stroke="#1a1a1a" stroke-width="0.06" textLength="8.3" lengthAdjust="spacingAndGlyphs">60</text>
<line x1="153" y1="373.04" x2="156" y2="373.04" stroke="#000" stroke-width="1.2"/>
<text x="149.4" y="375.94" font-size="8.6" text-anchor="end" fill="#1a1a1a" stroke="#1a1a1a" stroke-width="0.06" textLength="8.3" lengthAdjust="spacingAndGlyphs">80</text>
<line x1="153" y1="355.6" x2="156" y2="355.6" stroke="#000" stroke-width="1.2"/>
<text x="149.4" y="358.5" font-size="8.6" text-anchor="end" fill="#1a1a1a" stroke="#1a1a1a" stroke-width="0.06" textLength="12.45" lengthAdjust="spacingAndGlyphs">100</text>
<line x1="153" y1="442.8" x2="220.8" y2="442.8" stroke="#000" stroke-width="1.3"/>
<line x1="166.8" y1="386.4" x2="166.8" y2="385.6" stroke="#111" stroke-width="1.15"/>
<line x1="162.99" y1="385.6" x2="170.61" y2="385.6" stroke="#111" stroke-width="1.15"/>
<rect x="160" y="386.4" width="13.6" height="56.4" fill="#A3022A"/>
<line x1="188.4" y1="432" x2="188.4" y2="429.4" stroke="#111" stroke-width="1.15"/>
<line x1="184.48" y1="429.4" x2="192.32" y2="429.4" stroke="#111" stroke-width="1.15"/>
<rect x="181.4" y="432" width="14" height="10.8" fill="#A3022A"/>
<line x1="210" y1="429.4" x2="210" y2="427.4" stroke="#111" stroke-width="1.15"/>
<line x1="206.08" y1="427.4" x2="213.92" y2="427.4" stroke="#111" stroke-width="1.15"/>
<rect x="203" y="429.4" width="14" height="13.4" fill="#A3022A"/>
<path d="M188.4 416.3 L188.4 414.6 L210.6 414.6 L210.6 416.3" fill="none" stroke="#222" stroke-width="1.3" stroke-linejoin="round"/>
<text x="199.5" y="411.4" font-size="6.4" text-anchor="middle" fill="#222" stroke="#222" stroke-width="0.06" textLength="8" lengthAdjust="spacingAndGlyphs">NS</text>
<text x="191.15" y="446.8" font-size="8.4" text-anchor="end" fill="#1a1a1a" stroke="#1a1a1a" stroke-width="0.06" transform="rotate(-90 191.15 446.8)" textLength="14.2" lengthAdjust="spacingAndGlyphs">PGI<tspan dy="2.1" font-size="4.7">2</tspan><tspan dy="-2.1"></tspan></text>
<text x="212.55" y="446.8" font-size="8.4" text-anchor="end" fill="#1a1a1a" stroke="#1a1a1a" stroke-width="0.06" transform="rotate(-90 212.55 446.8)" textLength="14.2" lengthAdjust="spacingAndGlyphs">PGI<tspan dy="2.1" font-size="4.7">2</tspan><tspan dy="-2.1"></tspan></text>
<line x1="199.2" y1="464.2" x2="220.9" y2="464.2" stroke="#1e1e1e" stroke-width="1.4"/>
<text x="209.6" y="474.2" font-size="7.5" text-anchor="middle" fill="#B8204F" stroke="#B8204F" stroke-width="0.06">CD36<tspan dy="-3.3" font-size="4.2" dx="0.4">-/-</tspan></text>
<text x="210" y="482.4" font-size="7.5" text-anchor="middle" fill="#B8204F" stroke="#B8204F" stroke-width="0.06">releasate</text>
<text x="244.2" y="350.5" font-size="13.4" text-anchor="start" fill="#000" stroke="#000" stroke-width="0.4" font-weight="bold" textLength="7.5" lengthAdjust="spacingAndGlyphs">F</text>
<text x="263.2" y="362.5" font-size="7.8" text-anchor="middle" fill="#1a1a1a" stroke="#1a1a1a" stroke-width="0.06">Coll</text>
<path d="M264.3 366.1 L264.3 376.8" fill="none" stroke="#111" stroke-width="1.1" stroke-linejoin="round" stroke-linecap="round"/>
<path d="M261.90 377.00 L268.40 376.30 L270.00 374.80 L271.10 377.40" fill="none" stroke="#222" stroke-width="1" stroke-linejoin="round" stroke-linecap="round"/>
<path d="M271.10 377.40 L271.13 377.74 L271.17 378.13 L271.22 378.57 L271.26 379.06 L271.31 379.59 L271.37 380.15 L271.43 380.75 L271.49 381.38 L271.56 382.04 L271.62 382.72 L271.69 383.41 L271.76 384.12 L271.83 384.83 L271.90 385.56 L271.97 386.28 L272.04 387.00 L272.11 387.71 L272.18 388.41 L272.25 389.10 L272.32 389.76 L272.38 390.40 L272.44 391.02 L272.50 391.60 L272.57 392.28 L272.63 392.96 L272.70 393.62 L272.77 394.28 L272.83 394.94 L272.89 395.59 L272.96 396.23 L273.02 396.86 L273.08 397.49 L273.14 398.11 L273.21 398.72 L273.27 399.33 L273.33 399.93 L273.39 400.53 L273.45 401.12 L273.51 401.70 L273.57 402.27 L273.64 402.84 L273.70 403.40 L273.78 404.09 L273.85 404.76 L273.92 405.40 L273.99 406.02 L274.06 406.62 L274.12 407.22 L274.19 407.81 L274.26 408.39 L274.33 408.98 L274.41 409.58 L274.49 410.18 L274.58 410.80 L274.68 411.44 L274.79 412.11 L274.90 412.80 L274.99 413.34 L275.09 413.90 L275.18 414.48 L275.29 415.08 L275.39 415.69 L275.50 416.31 L275.61 416.94 L275.72 417.57 L275.84 418.21 L275.96 418.84 L276.08 419.48 L276.20 420.10 L276.33 420.72 L276.46 421.33 L276.59 421.92 L276.73 422.50 L276.87 423.06 L277.01 423.60 L277.15 424.11 L277.30 424.60 L277.53 425.31 L277.75 425.99 L277.98 426.62 L278.22 427.31 L278.46 428.17 L278.70 428.19 L278.96 428.73 L279.23 429.65 L279.51 429.91 L279.81 430.24 L280.12 430.74 L280.45 431.09 L280.80 431.33 L281.24 432.31 L281.71 433.04 L282.20 433.21 L282.71 433.53 L283.24 433.55 L283.79 433.97 L284.35 433.95 L284.93 434.86 L285.51 434.63 L286.10 434.86 L286.70 435.83 L287.26 435.30 L287.83 436.14 L288.42 435.85 L289.02 436.10 L289.63 436.03 L290.25 435.59 L290.87 436.22 L291.50 435.76 L292.13 435.96 L292.76 435.70 L293.38 435.66 L294.00 436.05 L294.64 435.72 L295.33 436.19 L296.04 436.75 L296.76 436.96 L297.49 436.38 L298.21 436.07 L298.90 436.38 L299.55 436.11 L300.15 436.31 L300.68 436.78 L301.14 436.81 L301.50 436.70" fill="none" stroke="#1c1c1c" stroke-width="1.2" stroke-linejoin="round" stroke-linecap="round"/>
<path d="M268.40 376.73 L268.74 376.70 L269.19 377.23 L269.71 377.35 L270.32 377.78 L270.99 378.25 L271.72 378.37 L272.50 378.60 L273.04 378.55 L273.62 378.79 L274.25 378.76 L274.91 378.44 L275.59 378.35 L276.28 378.37 L276.97 378.31 L277.66 378.34 L278.34 378.21 L278.98 378.32 L279.60 378.30 L280.18 378.48 L280.73 378.65 L281.26 379.03 L281.77 379.32 L282.28 379.64 L282.79 380.07 L283.30 380.22 L283.83 380.59 L284.39 380.98 L284.98 381.48 L285.60 381.64 L286.08 381.89 L286.57 382.20 L287.08 382.55 L287.60 382.70 L288.12 382.95 L288.66 383.41 L289.21 383.65 L289.76 383.95 L290.32 384.07 L290.89 384.44 L291.46 384.69 L292.04 385.07 L292.62 385.53 L293.21 385.85 L293.80 386.10 L294.34 386.23 L294.92 386.57 L295.52 386.96 L296.15 387.09 L296.79 387.42 L297.44 387.82 L298.09 388.02 L298.74 388.36 L299.38 388.63 L300.00 389.05 L300.60 389.24 L301.16 389.38 L301.69 389.60 L302.18 390.02 L302.61 390.06 L302.99 390.40 L303.30 390.50" fill="none" stroke="#E0251B" stroke-width="1.3" stroke-linejoin="round" stroke-linecap="round"/>
<path d="M268.40 376.37 L268.74 376.49 L269.19 377.07 L269.71 377.18 L270.32 377.33 L270.99 377.98 L271.72 377.91 L272.50 378.15 L273.04 378.14 L273.62 378.41 L274.25 378.48 L274.91 378.30 L275.59 378.03 L276.28 378.26 L276.97 378.20 L277.66 377.89 L278.34 377.85 L278.98 378.09 L279.60 378.34 L280.18 378.46 L280.73 378.64 L281.26 378.79 L281.77 378.81 L282.28 379.29 L282.79 379.50 L283.30 379.93 L283.83 380.19 L284.39 380.38 L284.98 381.07 L285.60 380.97 L286.08 381.37 L286.57 381.62 L287.08 382.20 L287.60 382.05 L288.12 382.55 L288.66 383.02 L289.21 383.14 L289.76 383.58 L290.32 383.60 L290.89 383.91 L291.46 384.16 L292.04 384.44 L292.62 384.70 L293.21 384.83 L293.80 385.54 L294.38 385.66 L294.99 385.88 L295.64 386.06 L296.31 386.15 L296.99 386.42 L297.68 387.04 L298.38 387.22 L299.06 387.28 L299.73 387.67 L300.38 388.00 L300.99 387.76 L301.56 388.12 L302.09 388.32 L302.56 388.45 L302.96 388.70 L303.30 388.80" fill="none" stroke="#151515" stroke-width="1.25" stroke-linejoin="round" stroke-linecap="round"/>
<text x="306.25" y="389.5" font-size="7.5" text-anchor="start" fill="#1a1a1a" stroke="#1a1a1a" stroke-width="0.06">PGI<tspan dy="2.1" font-size="4.7">2</tspan><tspan dy="-2.1"></tspan></text>
<text x="306.25" y="397.6" font-size="7.5" text-anchor="start" fill="#1a1a1a" stroke="#1a1a1a" stroke-width="0.06">PGI<tspan dy="2.1" font-size="4.7">2</tspan><tspan dy="-2.1"></tspan></text>
<text x="306.25" y="406.8" font-size="7.5" text-anchor="start" fill="#B8204F" stroke="#B8204F" stroke-width="0.06" textLength="23.6" lengthAdjust="spacingAndGlyphs">hTSP-1</text>
<line x1="265" y1="454" x2="305.5" y2="454" stroke="#484848" stroke-width="1.9"/>
<text x="285.4" y="463" font-size="7" text-anchor="middle" fill="#1a1a1a" stroke="#1a1a1a" stroke-width="0.06">CD36<tspan dy="-3.3" font-size="4.2" dx="0.4">-/-</tspan></text>
<line x1="374" y1="351" x2="374" y2="443.5" stroke="#000" stroke-width="1.2"/>
<line x1="371" y1="443" x2="374" y2="443" stroke="#000" stroke-width="1.2"/>
<text x="367" y="445.9" font-size="8.6" text-anchor="end" fill="#1a1a1a" stroke="#1a1a1a" stroke-width="0.06" textLength="4.15" lengthAdjust="spacingAndGlyphs">0</text>
<line x1="371" y1="425.12" x2="374" y2="425.12" stroke="#000" stroke-width="1.2"/>
<text x="367" y="428.02" font-size="8.6" text-anchor="end" fill="#1a1a1a" stroke="#1a1a1a" stroke-width="0.06" textLength="8.3" lengthAdjust="spacingAndGlyphs">20</text>
<line x1="371" y1="407.24" x2="374" y2="407.24" stroke="#000" stroke-width="1.2"/>
<text x="367" y="410.14" font-size="8.6" text-anchor="end" fill="#1a1a1a" stroke="#1a1a1a" stroke-width="0.06" textLength="8.3" lengthAdjust="spacingAndGlyphs">40</text>
<line x1="371" y1="389.36" x2="374" y2="389.36" stroke="#000" stroke-width="1.2"/>
<text x="367" y="392.26" font-size="8.6" text-anchor="end" fill="#1a1a1a" stroke="#1a1a1a" stroke-width="0.06" textLength="8.3" lengthAdjust="spacingAndGlyphs">60</text>
<line x1="371" y1="371.48" x2="374" y2="371.48" stroke="#000" stroke-width="1.2"/>
<text x="367" y="374.38" font-size="8.6" text-anchor="end" fill="#1a1a1a" stroke="#1a1a1a" stroke-width="0.06" textLength="8.3" lengthAdjust="spacingAndGlyphs">80</text>
<line x1="371" y1="353.6" x2="374" y2="353.6" stroke="#000" stroke-width="1.2"/>
<text x="367" y="356.5" font-size="8.6" text-anchor="end" fill="#1a1a1a" stroke="#1a1a1a" stroke-width="0.06" textLength="12.45" lengthAdjust="spacingAndGlyphs">100</text>
<line x1="371" y1="443" x2="439" y2="443" stroke="#000" stroke-width="1.3"/>
<line x1="384.8" y1="381.6" x2="384.8" y2="380.4" stroke="#111" stroke-width="1.15"/>
<line x1="380.99" y1="380.4" x2="388.61" y2="380.4" stroke="#111" stroke-width="1.15"/>
<rect x="378" y="381.6" width="13.6" height="61.4" fill="#A3022A"/>
<line x1="406.4" y1="430.4" x2="406.4" y2="427" stroke="#111" stroke-width="1.15"/>
<line x1="402.48" y1="427" x2="410.32" y2="427" stroke="#111" stroke-width="1.15"/>
<rect x="399.4" y="430.4" width="14" height="12.6" fill="#A3022A"/>
<line x1="428" y1="428" x2="428" y2="425.4" stroke="#111" stroke-width="1.15"/>
<line x1="424.08" y1="425.4" x2="431.92" y2="425.4" stroke="#111" stroke-width="1.15"/>
<rect x="421" y="428" width="14" height="15" fill="#A3022A"/>
<path d="M406 414.3 L406 412.6 L428.4 412.6 L428.4 414.3" fill="none" stroke="#222" stroke-width="1.3" stroke-linejoin="round"/>
<text x="417.2" y="408.6" font-size="6.4" text-anchor="middle" fill="#222" stroke="#222" stroke-width="0.06" textLength="8" lengthAdjust="spacingAndGlyphs">NS</text>
<text x="409.85" y="446.8" font-size="8.4" text-anchor="end" fill="#1a1a1a" stroke="#1a1a1a" stroke-width="0.06" transform="rotate(-90 409.85 446.8)" textLength="14.4" lengthAdjust="spacingAndGlyphs">PGI<tspan dy="2.1" font-size="4.7">2</tspan><tspan dy="-2.1"></tspan></text>
<text x="431.45" y="446.8" font-size="8.4" text-anchor="end" fill="#1a1a1a" stroke="#1a1a1a" stroke-width="0.06" transform="rotate(-90 431.45 446.8)" textLength="14.4" lengthAdjust="spacingAndGlyphs">PGI<tspan dy="2.1" font-size="4.7">2</tspan><tspan dy="-2.1"></tspan></text>
<line x1="417.4" y1="464.2" x2="438.9" y2="464.2" stroke="#1e1e1e" stroke-width="1.4"/>
<text x="427.7" y="473.6" font-size="7.3" text-anchor="middle" fill="#B8204F" stroke="#B8204F" stroke-width="0.06" textLength="23" lengthAdjust="spacingAndGlyphs">hTSP-1</text>
<text x="348.2" y="397" font-size="8.8" text-anchor="middle" fill="#1a1a1a" stroke="#1a1a1a" stroke-width="0.06" transform="rotate(-90 348.2 397)" textLength="56" lengthAdjust="spacingAndGlyphs">Aggregation (%)</text>
<text x="18.1" y="513.5" font-size="13.4" text-anchor="start" fill="#000" stroke="#000" stroke-width="0.4" font-weight="bold" textLength="11.58" lengthAdjust="spacingAndGlyphs">G</text>
<line x1="66.3" y1="521.3" x2="66.3" y2="616.8" stroke="#000" stroke-width="1.2"/>
<line x1="63.3" y1="616.3" x2="66.3" y2="616.3" stroke="#000" stroke-width="1.2"/>
<text x="59.5" y="619.2" font-size="8.6" text-anchor="end" fill="#1a1a1a" stroke="#1a1a1a" stroke-width="0.06" textLength="4.15" lengthAdjust="spacingAndGlyphs">0</text>
<line x1="63.3" y1="593.35" x2="66.3" y2="593.35" stroke="#000" stroke-width="1.2"/>
<text x="59.5" y="596.25" font-size="8.6" text-anchor="end" fill="#1a1a1a" stroke="#1a1a1a" stroke-width="0.06" textLength="8.3" lengthAdjust="spacingAndGlyphs">50</text>
<line x1="63.3" y1="570.4" x2="66.3" y2="570.4" stroke="#000" stroke-width="1.2"/>
<text x="59.5" y="573.3" font-size="8.6" text-anchor="end" fill="#1a1a1a" stroke="#1a1a1a" stroke-width="0.06" textLength="12.45" lengthAdjust="spacingAndGlyphs">100</text>
<line x1="63.3" y1="547.45" x2="66.3" y2="547.45" stroke="#000" stroke-width="1.2"/>
<text x="59.5" y="550.35" font-size="8.6" text-anchor="end" fill="#1a1a1a" stroke="#1a1a1a" stroke-width="0.06" textLength="12.45" lengthAdjust="spacingAndGlyphs">150</text>
<line x1="63.3" y1="524.5" x2="66.3" y2="524.5" stroke="#000" stroke-width="1.2"/>
<text x="59.5" y="527.4" font-size="8.6" text-anchor="end" fill="#1a1a1a" stroke="#1a1a1a" stroke-width="0.06" textLength="12.45" lengthAdjust="spacingAndGlyphs">200</text>
<line x1="62.5" y1="616.3" x2="131.7" y2="616.3" stroke="#000" stroke-width="1.3"/>
<rect x="69" y="570.4" width="10.9" height="45.9" fill="#A3022A"/>
<line x1="90.55" y1="553.5" x2="90.55" y2="545.2" stroke="#111" stroke-width="1.15"/>
<line x1="87.5" y1="545.2" x2="93.6" y2="545.2" stroke="#111" stroke-width="1.15"/>
<rect x="85.1" y="553.5" width="10.9" height="62.8" fill="#A3022A"/>
<rect x="101.7" y="570.6" width="10.5" height="45.7" fill="#2D4A7B"/>
<line x1="123.35" y1="565.9" x2="123.35" y2="557.9" stroke="#111" stroke-width="1.15"/>
<line x1="120.41" y1="557.9" x2="126.29" y2="557.9" stroke="#111" stroke-width="1.15"/>
<rect x="118.1" y="565.9" width="10.5" height="50.4" fill="#2D4A7B"/>
<path d="M74.4 533.7 L74.4 532 L90.6 532 L90.6 533.7" fill="none" stroke="#222" stroke-width="1.3" stroke-linejoin="round"/>
<text x="82.5" y="531.7" font-size="5.6" text-anchor="middle" fill="#222" stroke="#222" stroke-width="0.2">*</text>
<path d="M107 533.7 L107 532 L123 532 L123 533.7" fill="none" stroke="#222" stroke-width="1.3" stroke-linejoin="round"/>
<text x="115" y="528.8" font-size="6.4" text-anchor="middle" fill="#222" stroke="#222" stroke-width="0.06" textLength="8" lengthAdjust="spacingAndGlyphs">NS</text>
<text x="93.75" y="619" font-size="8.4" text-anchor="end" fill="#1a1a1a" stroke="#1a1a1a" stroke-width="0.06" transform="rotate(-90 93.75 619)" textLength="13.6" lengthAdjust="spacingAndGlyphs">Coll</text>
<text x="126.05" y="619" font-size="8.4" text-anchor="end" fill="#1a1a1a" stroke="#1a1a1a" stroke-width="0.06" transform="rotate(-90 126.05 619)" textLength="13.6" lengthAdjust="spacingAndGlyphs">Coll</text>
<line x1="68.7" y1="636.4" x2="95.9" y2="636.4" stroke="#1e1e1e" stroke-width="1.4"/>
<line x1="101.2" y1="636.4" x2="128.8" y2="636.4" stroke="#1e1e1e" stroke-width="1.4"/>
<text x="82.6" y="646.2" font-size="7.5" text-anchor="middle" fill="#1a1a1a" stroke="#1a1a1a" stroke-width="0.06">WT</text>
<text x="115.5" y="646.2" font-size="7.5" text-anchor="middle" fill="#1a1a1a" stroke="#1a1a1a" stroke-width="0.06">CD36<tspan dy="-3.3" font-size="4.2" dx="0.4">-/-</tspan></text>
<text x="41.2" y="568.8" font-size="8.8" text-anchor="middle" fill="#1a1a1a" stroke="#1a1a1a" stroke-width="0.06" transform="rotate(-90 41.2 568.8)" textLength="92.5" lengthAdjust="spacingAndGlyphs">PDE3A activity (% increase)</text>
<text x="148.45" y="513.7" font-size="13.4" text-anchor="start" fill="#000" stroke="#000" stroke-width="0.4" font-weight="bold" textLength="11.33" lengthAdjust="spacingAndGlyphs">H</text>
<line x1="203.9" y1="532.3" x2="203.9" y2="616.5" stroke="#000" stroke-width="1.2"/>
<line x1="200.9" y1="616" x2="203.9" y2="616" stroke="#000" stroke-width="1.2"/>
<text x="197" y="618.9" font-size="8.6" text-anchor="end" fill="#1a1a1a" stroke="#1a1a1a" stroke-width="0.06" textLength="4.15" lengthAdjust="spacingAndGlyphs">0</text>
<line x1="200.9" y1="595.8" x2="203.9" y2="595.8" stroke="#000" stroke-width="1.2"/>
<text x="197" y="598.7" font-size="8.6" text-anchor="end" fill="#1a1a1a" stroke="#1a1a1a" stroke-width="0.06" textLength="4.15" lengthAdjust="spacingAndGlyphs">2</text>
<line x1="200.9" y1="575.6" x2="203.9" y2="575.6" stroke="#000" stroke-width="1.2"/>
<text x="197" y="578.5" font-size="8.6" text-anchor="end" fill="#1a1a1a" stroke="#1a1a1a" stroke-width="0.06" textLength="4.15" lengthAdjust="spacingAndGlyphs">4</text>
<line x1="200.9" y1="555.4" x2="203.9" y2="555.4" stroke="#000" stroke-width="1.2"/>
<text x="197" y="558.3" font-size="8.6" text-anchor="end" fill="#1a1a1a" stroke="#1a1a1a" stroke-width="0.06" textLength="4.15" lengthAdjust="spacingAndGlyphs">6</text>
<line x1="200.9" y1="535.2" x2="203.9" y2="535.2" stroke="#000" stroke-width="1.2"/>
<text x="197" y="538.1" font-size="8.6" text-anchor="end" fill="#1a1a1a" stroke="#1a1a1a" stroke-width="0.06" textLength="4.15" lengthAdjust="spacingAndGlyphs">8</text>
<line x1="201" y1="616" x2="303.5" y2="616" stroke="#000" stroke-width="1.3"/>
<rect x="206.25" y="606.25" width="8" height="9.75" fill="#A3022A"/>
<line x1="222.75" y1="564.5" x2="222.75" y2="560.5" stroke="#111" stroke-width="1.15"/>
<line x1="220.51" y1="560.5" x2="224.99" y2="560.5" stroke="#111" stroke-width="1.15"/>
<rect x="218.75" y="564.5" width="8" height="51.5" fill="#A3022A"/>
<line x1="235.25" y1="607.5" x2="235.25" y2="606.2" stroke="#111" stroke-width="1.15"/>
<line x1="233.01" y1="606.2" x2="237.49" y2="606.2" stroke="#111" stroke-width="1.15"/>
<rect x="231.25" y="607.5" width="8" height="8.5" fill="#A3022A"/>
<line x1="247.75" y1="582" x2="247.75" y2="573.8" stroke="#111" stroke-width="1.15"/>
<line x1="245.51" y1="573.8" x2="249.99" y2="573.8" stroke="#111" stroke-width="1.15"/>
<rect x="243.75" y="582" width="8" height="34" fill="#A3022A"/>
<rect x="256" y="606.3" width="8" height="9.7" fill="#2D4A7B"/>
<line x1="272.9" y1="573.3" x2="272.9" y2="569.8" stroke="#111" stroke-width="1.15"/>
<line x1="270.6" y1="569.8" x2="275.2" y2="569.8" stroke="#111" stroke-width="1.15"/>
<rect x="268.8" y="573.3" width="8.2" height="42.7" fill="#2D4A7B"/>
<line x1="285.35" y1="607" x2="285.35" y2="606.2" stroke="#111" stroke-width="1.15"/>
<line x1="283.08" y1="606.2" x2="287.62" y2="606.2" stroke="#111" stroke-width="1.15"/>
<rect x="281.3" y="607" width="8.1" height="9" fill="#2D4A7B"/>
<line x1="297.9" y1="581" x2="297.9" y2="574.6" stroke="#111" stroke-width="1.15"/>
<line x1="295.6" y1="574.6" x2="300.2" y2="574.6" stroke="#111" stroke-width="1.15"/>
<rect x="293.8" y="581" width="8.2" height="35" fill="#2D4A7B"/>
<path d="M222.6 547.3 L222.6 545.6 L248 545.6 L248 547.3" fill="none" stroke="#222" stroke-width="1.3" stroke-linejoin="round"/>
<text x="235.3" y="545.3" font-size="5.6" text-anchor="middle" fill="#222" stroke="#222" stroke-width="0.2">*</text>
<path d="M272.5 547.1 L272.5 545.4 L297.7 545.4 L297.7 547.1" fill="none" stroke="#222" stroke-width="1.3" stroke-linejoin="round"/>
<text x="285.1" y="542.4" font-size="6.4" text-anchor="middle" fill="#222" stroke="#222" stroke-width="0.06" textLength="8" lengthAdjust="spacingAndGlyphs">NS</text>
<text x="225.65" y="619" font-size="8.4" text-anchor="end" fill="#1a1a1a" stroke="#1a1a1a" stroke-width="0.06" transform="rotate(-90 225.65 619)" textLength="15" lengthAdjust="spacingAndGlyphs">PGI<tspan dy="2.1" font-size="4.7">2</tspan><tspan dy="-2.1"></tspan></text>
<text x="238.35" y="619" font-size="8.4" text-anchor="end" fill="#1a1a1a" stroke="#1a1a1a" stroke-width="0.06" transform="rotate(-90 238.35 619)" textLength="25.4" lengthAdjust="spacingAndGlyphs">CRP-XL</text>
<text x="250.95" y="619" font-size="8.4" text-anchor="end" fill="#1a1a1a" stroke="#1a1a1a" stroke-width="0.06" transform="rotate(-90 250.95 619)" textLength="31.8" lengthAdjust="spacingAndGlyphs">PGI<tspan dy="2.1" font-size="4.7">2</tspan><tspan dy="-2.1">/CRP</tspan></text>
<text x="276.45" y="619" font-size="8.4" text-anchor="end" fill="#1a1a1a" stroke="#1a1a1a" stroke-width="0.06" transform="rotate(-90 276.45 619)" textLength="15" lengthAdjust="spacingAndGlyphs">PGI<tspan dy="2.1" font-size="4.7">2</tspan><tspan dy="-2.1"></tspan></text>
<text x="289.15" y="619" font-size="8.4" text-anchor="end" fill="#1a1a1a" stroke="#1a1a1a" stroke-width="0.06" transform="rotate(-90 289.15 619)" textLength="25.4" lengthAdjust="spacingAndGlyphs">CRP-XL</text>
<text x="300.65" y="619" font-size="8.4" text-anchor="end" fill="#1a1a1a" stroke="#1a1a1a" stroke-width="0.06" transform="rotate(-90 300.65 619)" textLength="31.8" lengthAdjust="spacingAndGlyphs">PGI<tspan dy="2.1" font-size="4.7">2</tspan><tspan dy="-2.1">/CRP</tspan></text>
<line x1="206" y1="657.5" x2="251.9" y2="657.5" stroke="#1e1e1e" stroke-width="1.4"/>
<line x1="256" y1="657.5" x2="301.6" y2="657.5" stroke="#1e1e1e" stroke-width="1.4"/>
<text x="228.5" y="666.5" font-size="7.5" text-anchor="middle" fill="#1a1a1a" stroke="#1a1a1a" stroke-width="0.06">WT</text>
<text x="279.5" y="666.5" font-size="7.5" text-anchor="middle" fill="#1a1a1a" stroke="#1a1a1a" stroke-width="0.06">CD36<tspan dy="-3.3" font-size="4.2" dx="0.4">-/-</tspan></text>
<text x="174.8" y="573.7" font-size="8.8" text-anchor="middle" fill="#1a1a1a" stroke="#1a1a1a" stroke-width="0.06" transform="rotate(-90 174.8 573.7)" textLength="62" lengthAdjust="spacingAndGlyphs">PhophoVASP<tspan dy="-3.4" font-size="6.8">ser157</tspan></text>
<text x="186" y="573.7" font-size="8.8" text-anchor="middle" fill="#1a1a1a" stroke="#1a1a1a" stroke-width="0.06" transform="rotate(-90 186 573.7)" textLength="47.8" lengthAdjust="spacingAndGlyphs">(fold increase)</text>
<rect x="0" y="0" width="520" height="1.25" fill="#000"/>
<rect x="0" y="0" width="1.25" height="677" fill="#000"/>
<rect x="518.5" y="0" width="1.5" height="677" fill="#000"/>
<rect x="0" y="675.4" width="520" height="1.6" fill="#000"/>
</svg>
</body></html>
